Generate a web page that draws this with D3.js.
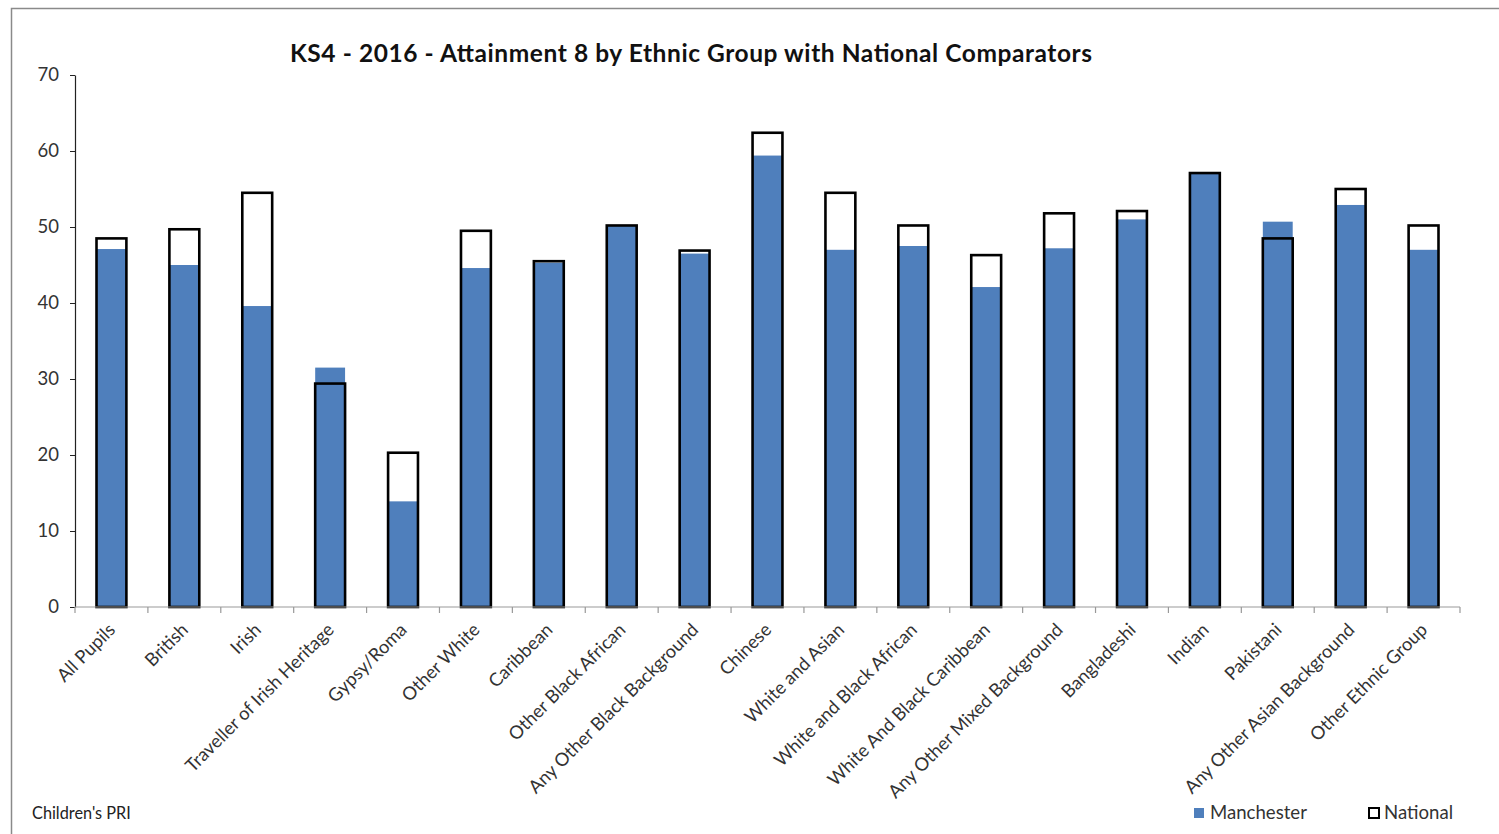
<!DOCTYPE html>
<html>
<head>
<meta charset="utf-8">
<script src="https://cdn.jsdelivr.net/npm/d3@7/dist/d3.min.js"></script>
<style>
  html, body { margin: 0; padding: 0; background: #fff; }
  svg { display: block; }
</style>
</head>
<body>
<svg id="chart" width="1499" height="834"></svg>
<script>
// Ethnic groups shown along the x axis
const categories = [
  "All Pupils", "British", "Irish", "Traveller of Irish Heritage", "Gypsy/Roma",
  "Other White", "Caribbean", "Other Black African", "Any Other Black Background",
  "Chinese", "White and Asian", "White and Black African", "White And Black Caribbean",
  "Any Other Mixed Background", "Bangladeshi", "Indian", "Pakistani",
  "Any Other Asian Background", "Other Ethnic Group"
];

// Attainment 8 average scores, Manchester
const manchester = [
  47.1, 45.0, 39.6, 31.5, 13.9,
  44.6, 45.3, 50.2, 46.5,
  59.4, 47.0, 47.5, 42.1,
  47.2, 51.0, 57.0, 50.7,
  52.9, 47.0
];

// Attainment 8 average scores, national comparators
const national = [
  48.5, 49.7, 54.5, 29.4, 20.3,
  49.5, 45.5, 50.2, 46.9,
  62.4, 54.5, 50.2, 46.3,
  51.8, 52.1, 57.1, 48.5,
  55.0, 50.2
];

const yTicks = [0, 10, 20, 30, 40, 50, 60, 70];

const svg = d3.select("#chart");
const W = 1499, H = 834;
const margin = { left: 75, right: 39, top: 75, bottom: 227 };
const plotW = W - margin.left - margin.right;
const plotH = H - margin.top - margin.bottom;
const FONT = "Lato, 'Open Sans', 'DejaVu Sans', sans-serif";
const BLUE = "#4f7fbc";

// Outer chart frame
svg.append("rect")
  .attr("x", 11.5).attr("y", 8.5)
  .attr("width", W + 20).attr("height", H + 20)
  .attr("fill", "none").attr("stroke", "#8a8a8a").attr("stroke-width", 1.5);

// Title
svg.append("text")
  .attr("x", 691).attr("y", 62)
  .attr("text-anchor", "middle")
  .attr("font-family", FONT)
  .attr("font-weight", "bold")
  .attr("font-size", 24.5)
  .attr("textLength", 802)
  .attr("lengthAdjust", "spacing")
  .attr("fill", "#111")
  .text("KS4 - 2016 - Attainment 8 by Ethnic Group with National Comparators");

const g = svg.append("g").attr("transform", `translate(${margin.left},${margin.top})`);

const x = d3.scaleBand().domain(categories).range([0, plotW]).paddingInner(0.59).paddingOuter(0.295);
const y = d3.scaleLinear().domain([0, 70]).range([plotH, 0]);

// Manchester filled bars
g.selectAll("rect.man")
  .data(categories)
  .join("rect")
  .attr("class", "man")
  .attr("x", d => x(d))
  .attr("width", x.bandwidth())
  .attr("y", (d, i) => y(manchester[i]))
  .attr("height", (d, i) => y(0) - y(manchester[i]))
  .attr("fill", BLUE);

// National outline bars drawn over the Manchester bars
g.selectAll("rect.nat")
  .data(categories)
  .join("rect")
  .attr("class", "nat")
  .attr("x", d => x(d))
  .attr("width", x.bandwidth())
  .attr("y", (d, i) => y(national[i]))
  .attr("height", (d, i) => y(0) - y(national[i]))
  .attr("fill", "none")
  .attr("stroke", "#000")
  .attr("stroke-width", 2.6);

// Y axis
const yAxis = g.append("g")
  .call(d3.axisLeft(y).tickValues(yTicks).tickSize(5).tickSizeOuter(0).tickPadding(11));
yAxis.select(".domain").attr("stroke", "#222").attr("stroke-width", 1.2);
yAxis.selectAll(".tick line").attr("stroke", "#222");
yAxis.selectAll("text")
  .attr("font-family", FONT).attr("font-size", 18.5).attr("fill", "#333");

// X axis with ticks at category boundaries
const step = x.step();
const xAxis = g.append("g").attr("transform", `translate(0,${plotH})`);
xAxis.append("line")
  .attr("x1", 0).attr("x2", plotW).attr("y1", 0).attr("y2", 0)
  .attr("stroke", "#999").attr("stroke-width", 1.2);
xAxis.selectAll("line.tk")
  .data(d3.range(categories.length + 1))
  .join("line")
  .attr("class", "tk")
  .attr("x1", i => i * step).attr("x2", i => i * step)
  .attr("y1", 0).attr("y2", 6)
  .attr("stroke", "#999").attr("stroke-width", 1.2);

xAxis.selectAll("text.lbl")
  .data(categories)
  .join("text")
  .attr("class", "lbl")
  .attr("transform", d => `translate(${x(d) + x.bandwidth() / 2 + 5},${24}) rotate(-45)`)
  .attr("text-anchor", "end")
  .attr("font-family", FONT)
  .attr("font-size", 18.3)
  .attr("fill", "#333")
  .text(d => d);

// Source note
svg.append("text")
  .attr("x", 32).attr("y", 819)
  .attr("font-family", FONT).attr("font-size", 16.3).attr("fill", "#222")
  .text("Children's PRI");

// Legend
const legend = svg.append("g");
legend.append("rect")
  .attr("x", 1194).attr("y", 808).attr("width", 10).attr("height", 10)
  .attr("fill", BLUE);
legend.append("text")
  .attr("x", 1210).attr("y", 819)
  .attr("font-family", FONT).attr("font-size", 18.6).attr("fill", "#333")
  .text("Manchester");
legend.append("rect")
  .attr("x", 1369).attr("y", 808).attr("width", 10).attr("height", 10)
  .attr("fill", "none").attr("stroke", "#000").attr("stroke-width", 2);
legend.append("text")
  .attr("x", 1384).attr("y", 819)
  .attr("font-family", FONT).attr("font-size", 18.6).attr("fill", "#333")
  .text("National");
</script>
</body>
</html>
